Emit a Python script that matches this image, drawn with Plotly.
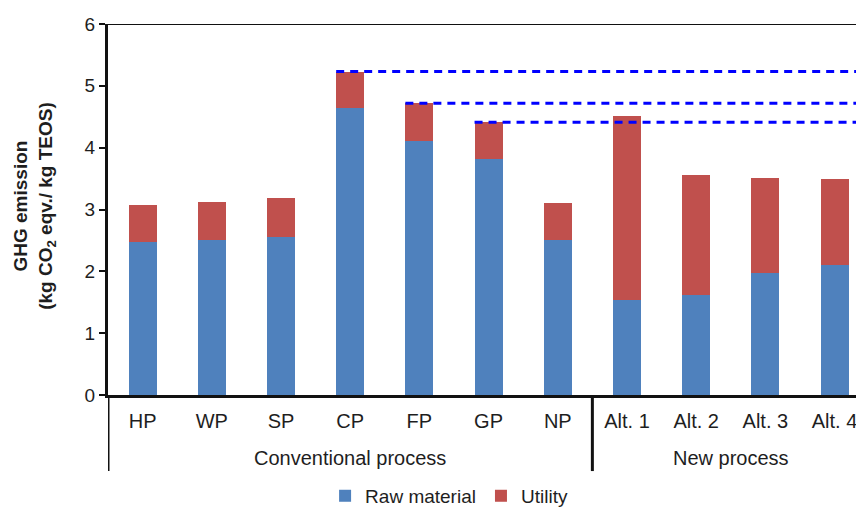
import plotly.graph_objects as go

# Process categories and emission breakdown (kg CO2 eqv. / kg TEOS)
categories = ["HP", "WP", "SP", "CP", "FP", "GP", "NP", "Alt. 1", "Alt. 2", "Alt. 3", "Alt. 4"]
raw_material = [2.47, 2.51, 2.56, 4.64, 4.10, 3.81, 2.51, 1.54, 1.61, 1.97, 2.10]
utility = [0.61, 0.61, 0.62, 0.59, 0.62, 0.60, 0.59, 2.98, 1.94, 1.54, 1.39]

groups = ["Conventional process", "New process"]
group_sizes = [7, 4]

# conventional processes whose totals are carried across as reference levels
reference_processes = ["CP", "FP", "GP"]

BLUE = "#4F81BD"
RED = "#C0504D"
FONT = "Arial, Liberation Sans, sans-serif"
TEXT = "#1e1e1e"

bar_width = 0.405
x_end = 10.31  # right edge of the visible category range

fig = go.Figure()
fig.add_trace(go.Bar(x=categories, y=raw_material, name="Raw material",
                     marker=dict(color=BLUE, line=dict(width=0)), width=bar_width))
fig.add_trace(go.Bar(x=categories, y=utility, name="Utility",
                     marker=dict(color=RED, line=dict(width=0)), width=bar_width))

shapes = []
# dashed reference lines from the top of selected bars
for name in reference_processes:
    i = categories.index(name)
    total = raw_material[i] + utility[i]
    shapes.append(dict(type="line", xref="x", yref="y",
                       x0=i - bar_width / 2, x1=x_end, y0=total, y1=total,
                       line=dict(color="#0000FF", width=3, dash="8px,6px"),
                       layer="above"))

# top frame line
shapes.append(dict(type="line", xref="paper", yref="y", x0=0, x1=1, y0=6, y1=6,
                   line=dict(color="#111", width=2), layer="above"))

# group separators below the category axis
sep_bottom = -0.205
start = 0
annotations = []
for g, n in zip(groups, group_sizes):
    shapes.append(dict(type="line", xref="x", yref="paper",
                       x0=start - 0.5, x1=start - 0.5, y0=0, y1=sep_bottom,
                       line=dict(color="#111", width=3)))
    annotations.append(dict(text=g, xref="x", yref="paper",
                            x=start + (n - 1) / 2, y=-0.170,
                            xanchor="center", yanchor="middle", showarrow=False,
                            font=dict(family=FONT, size=20, color=TEXT)))
    start += n

# y-axis title, two lines, rotated
annotations.append(dict(
    text="<b>GHG emission</b><br><b>(kg CO<sub>2</sub> eqv./ kg TEOS)</b>",
    xref="paper", yref="paper", x=-0.0975, y=0.51,
    xanchor="center", yanchor="middle", textangle=-90, showarrow=False,
    font=dict(family=FONT, size=19, color=TEXT)))

fig.update_layout(
    width=856, height=507,
    margin=dict(l=108, r=0, t=24, b=112, autoexpand=False),
    paper_bgcolor="white", plot_bgcolor="white",
    barmode="stack",
    bargap=0.6,
    showlegend=True,
    legend=dict(orientation="h", x=0.456, y=-0.272, xanchor="center", yanchor="middle",
                font=dict(family=FONT, size=19, color=TEXT), traceorder="normal",
                itemwidth=30, tracegroupgap=0),
    shapes=shapes,
    annotations=annotations,
    font=dict(family=FONT, color=TEXT),
)

fig.update_xaxes(
    type="category", range=[-0.5, x_end],
    showline=True, linecolor="#111", linewidth=3,
    ticks="", showgrid=False, zeroline=False,
    ticklabelstandoff=6,
    tickfont=dict(family=FONT, size=20, color=TEXT),
)

fig.update_yaxes(
    range=[0, 6], dtick=1, tick0=0,
    showline=True, linecolor="#111", linewidth=3,
    ticks="outside", ticklen=6, tickwidth=2, tickcolor="#111",
    showgrid=False, zeroline=False,
    tickfont=dict(family=FONT, size=19, color=TEXT),
)

fig.write_html("out.html")
